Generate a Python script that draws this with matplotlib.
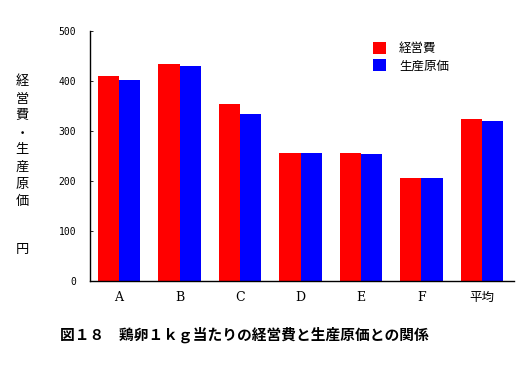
import matplotlib
matplotlib.use("Agg")
import matplotlib.pyplot as plt
import numpy as np

# data
categories = ["A", "B", "C", "D", "E", "F", "平均"]
keieihi = [410, 433, 354, 256, 256, 206, 324]   # 経営費
genka = [402, 430, 334, 256, 254, 206, 320]     # 生産原価
yticks = [0, 100, 200, 300, 400, 500]

fam = ["DejaVu Serif", "Noto Sans CJK JP"]

fig = plt.figure(figsize=(5.28, 3.69), dpi=100)
ax = fig.add_axes([0.1705, 0.2385, 0.803, 0.6775])

x = np.arange(len(categories))
w = 0.35
ax.bar(x - w / 2, keieihi, w, color="#ff0000", label="経営費")
ax.bar(x + w / 2, genka, w, color="#0000ff", label="生産原価")

ax.set_xlim(-0.48, 6.53)
ax.set_ylim(0, 500)
ax.set_yticks(yticks)
ax.set_yticklabels([str(v) for v in yticks], fontsize=7, family="DejaVu Sans Mono")
ax.set_xticks(x)
ax.set_xticklabels(categories, fontsize=9, family=fam)
ax.tick_params(axis="x", length=0, pad=7)
ax.tick_params(axis="y", length=2, width=0.6, direction="in", pad=10)

for s in ["top", "right"]:
    ax.spines[s].set_visible(False)
ax.spines["left"].set_linewidth(1.0)
ax.spines["bottom"].set_linewidth(1.0)

leg = ax.legend(loc="upper left", bbox_to_anchor=(0.64, 1.0), frameon=False,
                prop={"family": fam, "size": 9}, handlelength=1.1,
                handleheight=1.1, handletextpad=1.0, labelspacing=0.3)

# vertical y-axis label, stacked characters
ylab = "経営費・生産原価"
for i, ch in enumerate(ylab):
    fig.text(22 / 528, 1 - (82 + i * 17.0) / 369, ch, fontsize=9.5,
             family=fam, ha="center", va="center")
fig.text(22 / 528, 1 - 250 / 369, "円", fontsize=9.5, family=fam,
         ha="center", va="center")

fig.text(60 / 528, 1 - 335 / 369,
         "図１８　鶏卵１ｋｇ当たりの経営費と生産原価との関係",
         fontsize=10.6, family=fam, weight="bold", ha="left", va="center")

fig.savefig("out.png", dpi=100)
